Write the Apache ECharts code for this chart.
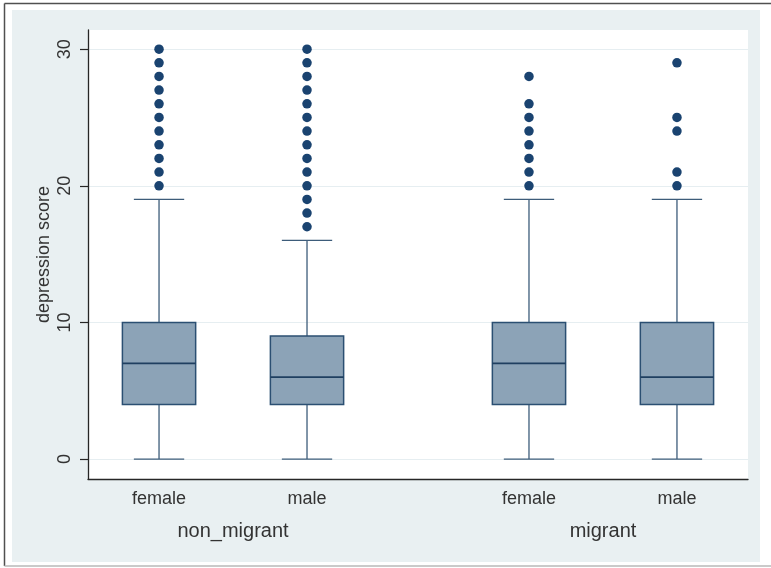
<!DOCTYPE html>
<html>
<head>
<meta charset="utf-8">
<title>depression score by sex and migration status</title>
<script src="https://cdn.jsdelivr.net/npm/echarts@6/dist/echarts.min.js"></script>
<style>
  html, body { margin: 0; padding: 0; background: #ffffff; }
  #chart { width: 771px; height: 568px; }
</style>
</head>
<body>
<div id="chart"></div>
<script>
// Groups (outer categories) and sexes (inner categories)
const groups = ['non_migrant', 'migrant'];
const sexes = ['female', 'male'];

// Box statistics, one entry per box in the order
// non_migrant/female, non_migrant/male, migrant/female, migrant/male
const lowerAdjacent = [0, 0, 0, 0];
const quartile1 = [4, 4, 4, 4];
const medians = [7, 6, 7, 6];
const quartile3 = [10, 9, 10, 10];
const upperAdjacent = [19, 16, 19, 19];

// Outside values for each box
const outsideValues = [
  [20, 21, 22, 23, 24, 25, 26, 27, 28, 29, 30],
  [17, 18, 19, 20, 21, 22, 23, 24, 25, 26, 27, 28, 29, 30],
  [20, 21, 22, 23, 24, 25, 26, 28],
  [20, 21, 24, 25, 29]
];

// Y axis tick values
const yTicks = [0, 10, 20, 30];

const NAVY = '#1a4370';
const BOX_FILL = '#8ca3b7';
const TEXT = '#333333';
const FONT = 'Liberation Sans, Arial, sans-serif';

// Horizontal layout: inner categories one unit apart, half a unit of extra gap between groups
const groupGap = 0.5;
function boxPosition(g, s) {
  return g * (sexes.length + groupGap) + s + 1;
}

const boxData = [];
const outlierData = [];
const sexTickValues = [];
const sexLabelAt = {};
const groupTickValues = [];
const groupLabelAt = {};
groups.forEach(function (gName, g) {
  let sum = 0;
  sexes.forEach(function (sName, s) {
    const i = g * sexes.length + s;
    const x = boxPosition(g, s);
    sum += x;
    sexTickValues.push(x);
    sexLabelAt[x] = sName;
    boxData.push([x, lowerAdjacent[i], quartile1[i], medians[i], quartile3[i], upperAdjacent[i]]);
    outsideValues[i].forEach(function (v) { outlierData.push([x, v]); });
  });
  const mid = sum / sexes.length;
  groupTickValues.push(mid);
  groupLabelAt[mid] = gName;
});

const BOX_WIDTH = 0.495;
const CAP_WIDTH = 0.34;
const X_MIN = 0.52;
const X_MAX = 4.98;

function renderBox(params, api) {
  const x = api.value(0);
  const pLow = api.coord([x, api.value(1)]);
  const pQ1 = api.coord([x, api.value(2)]);
  const pMed = api.coord([x, api.value(3)]);
  const pQ3 = api.coord([x, api.value(4)]);
  const pHigh = api.coord([x, api.value(5)]);
  const halfBox = api.size([BOX_WIDTH, 0])[0] / 2;
  const halfCap = api.size([CAP_WIDTH, 0])[0] / 2;
  const cx = pMed[0];
  const whisker = { stroke: '#3d5c7a', lineWidth: 1.3 };
  return {
    type: 'group',
    children: [
      { type: 'line', shape: { x1: cx, y1: pQ3[1], x2: cx, y2: pHigh[1] }, style: whisker },
      { type: 'line', shape: { x1: cx, y1: pQ1[1], x2: cx, y2: pLow[1] }, style: whisker },
      { type: 'line', shape: { x1: cx - halfCap, y1: pHigh[1], x2: cx + halfCap, y2: pHigh[1] }, style: whisker },
      { type: 'line', shape: { x1: cx - halfCap, y1: pLow[1], x2: cx + halfCap, y2: pLow[1] }, style: whisker },
      {
        type: 'rect',
        shape: { x: cx - halfBox, y: pQ3[1], width: halfBox * 2, height: pQ1[1] - pQ3[1] },
        style: { fill: BOX_FILL, stroke: '#2b4f72', lineWidth: 1.5 }
      },
      {
        type: 'line',
        shape: { x1: cx - halfBox, y1: pMed[1], x2: cx + halfBox, y2: pMed[1] },
        style: { stroke: '#1f3f60', lineWidth: 1.8 }
      }
    ]
  };
}

const chart = echarts.init(document.getElementById('chart'), null, { renderer: 'canvas' });

chart.setOption({
  backgroundColor: '#ffffff',
  animation: false,
  textStyle: { fontFamily: FONT },
  graphic: [
    { type: 'rect', z: -10, silent: true, shape: { x: 12, y: 10, width: 748, height: 552 }, style: { fill: '#e9f0f2' } },
    { type: 'line', z: -10, silent: true, shape: { x1: 4.5, y1: 3.5, x2: 771, y2: 3.5 }, style: { stroke: '#505050', lineWidth: 1.5 } },
    { type: 'line', z: -10, silent: true, shape: { x1: 4.5, y1: 3.5, x2: 4.5, y2: 566 }, style: { stroke: '#505050', lineWidth: 1.5 } },
    { type: 'line', z: -10, silent: true, shape: { x1: 4.5, y1: 566, x2: 771, y2: 566 }, style: { stroke: '#b8b8b8', lineWidth: 1.5 } }
  ],
  grid: {
    left: 88,
    top: 30,
    right: 23,
    bottom: 89,
    show: true,
    backgroundColor: '#ffffff',
    borderWidth: 0
  },
  xAxis: [
    {
      type: 'value',
      min: X_MIN,
      max: X_MAX,
      position: 'bottom',
      axisLine: { show: true, onZero: false, lineStyle: { color: '#262626', width: 1.3 } },
      axisTick: { show: false },
      splitLine: { show: false },
      axisLabel: {
        customValues: sexTickValues,
        formatter: function (v) { return sexLabelAt[v] || ''; },
        color: TEXT,
        fontSize: 18,
        fontFamily: FONT,
        margin: 11
      }
    },
    {
      type: 'value',
      min: X_MIN,
      max: X_MAX,
      position: 'bottom',
      axisLine: { show: false },
      axisTick: { show: false },
      splitLine: { show: false },
      axisLabel: {
        customValues: groupTickValues,
        formatter: function (v) { return groupLabelAt[v] || ''; },
        color: TEXT,
        fontSize: 20,
        fontFamily: FONT,
        margin: 42
      }
    }
  ],
  yAxis: {
    type: 'value',
    min: -1.46,
    max: 31.4,
    name: 'depression score',
    nameLocation: 'middle',
    nameRotate: 90,
    nameGap: 35,
    nameMoveOverlap: false,
    nameTextStyle: { color: TEXT, fontSize: 18, fontFamily: FONT },
    axisLine: { show: true, onZero: false, lineStyle: { color: '#262626', width: 1.3 } },
    axisTick: { show: true, customValues: yTicks, length: 8, lineStyle: { color: '#262626', width: 1.2 } },
    axisLabel: {
      customValues: yTicks,
      rotate: 90,
      color: TEXT,
      fontSize: 18,
      fontFamily: FONT,
      margin: 14
    },
    splitLine: { show: true, lineStyle: { color: '#e6eef1', width: 1 } }
  },
  series: [
    {
      type: 'custom',
      xAxisIndex: 0,
      renderItem: renderBox,
      encode: { x: 0, y: [1, 2, 3, 4, 5] },
      data: boxData,
      z: 3
    },
    {
      type: 'scatter',
      xAxisIndex: 0,
      symbol: 'circle',
      symbolSize: 9.5,
      itemStyle: { color: NAVY, opacity: 1 },
      data: outlierData,
      z: 4
    }
  ]
});
</script>
</body>
</html>
